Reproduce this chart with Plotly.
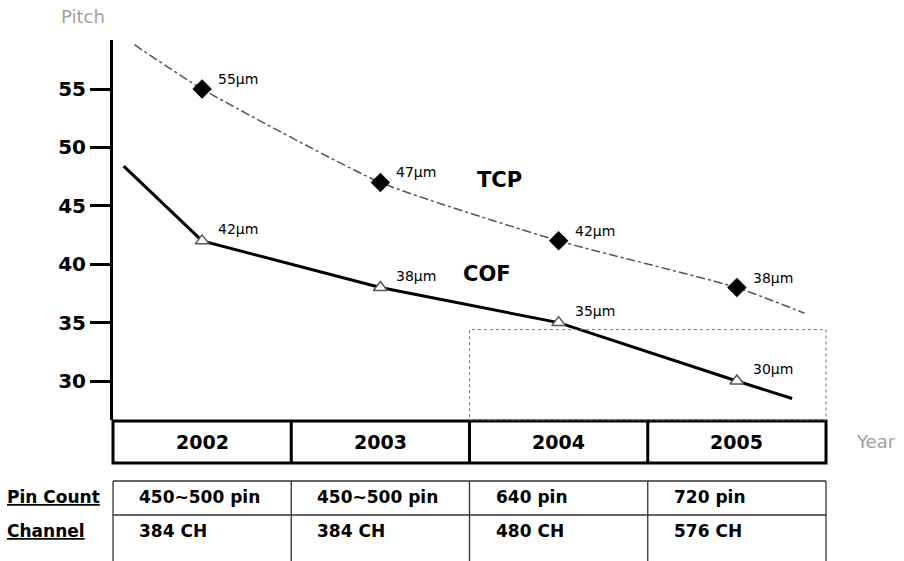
import plotly.graph_objects as go

# ---- data -------------------------------------------------------------
years = [2002, 2003, 2004, 2005]
tcp_pitch = [55, 47, 42, 38]
cof_pitch = [42, 38, 35, 30]
tcp_labels = ["55µm", "47µm", "42µm", "38µm"]
cof_labels = ["42µm", "38µm", "35µm", "30µm"]

# trend lines continue a little before the first and after the last year
tcp_trend_start = (2001.62, 58.8)
tcp_trend_end = (2005.38, 35.8)
cof_trend_start = (2001.56, 48.4)
cof_trend_end = (2005.31, 28.5)

pin_count = ["450~500 pin", "450~500 pin", "640 pin", "720 pin"]
channel = ["384 CH", "384 CH", "480 CH", "576 CH"]
row_titles = ["Pin Count", "Channel"]
y_ticks = [30, 35, 40, 45, 50, 55]

# highlighted period (dotted box)
focus_years = (2003.5, 2005.5)
focus_top = 34.4

# ---- geometry ---------------------------------------------------------
W, H = 904, 561
M_L, M_R, M_T, M_B = 113, 78, 40, 141
X_RANGE = [2001.5, 2005.5]
Y_RANGE = [26.66, 59.2]
PLOT_H = H - M_T - M_B
PLOT_W = W - M_L - M_R


def xp(x):
    """data x -> paper x"""
    return (x - X_RANGE[0]) / (X_RANGE[1] - X_RANGE[0])


def yp(y):
    """data y -> paper y"""
    return (y - Y_RANGE[0]) / (Y_RANGE[1] - Y_RANGE[0])


def py(pix):
    """pixel row -> paper y"""
    return (H - M_B - pix) / PLOT_H


def px(pix):
    """pixel column -> paper x"""
    return (pix - M_L) / PLOT_W


BOLD = dict(family="DejaVu Sans", weight="bold", color="black")

fig = go.Figure()

# TCP trend (dash-dot) and markers
fig.add_trace(go.Scatter(
    x=[tcp_trend_start[0]] + years + [tcp_trend_end[0]],
    y=[tcp_trend_start[1]] + tcp_pitch + [tcp_trend_end[1]],
    mode="lines", line=dict(color="#555555", width=1.5, dash="dashdot",
                            shape="spline", smoothing=0.5),
    hoverinfo="skip", showlegend=False))
# COF trend (solid)
fig.add_trace(go.Scatter(
    x=[cof_trend_start[0]] + years + [cof_trend_end[0]],
    y=[cof_trend_start[1]] + cof_pitch + [cof_trend_end[1]],
    mode="lines", line=dict(color="black", width=3),
    hoverinfo="skip", showlegend=False))
fig.add_trace(go.Scatter(
    x=years, y=tcp_pitch, mode="markers", name="TCP",
    marker=dict(symbol="diamond", size=15, color="black"),
    showlegend=False))
fig.add_trace(go.Scatter(
    x=years, y=cof_pitch, mode="markers", name="COF",
    marker=dict(symbol="triangle-up", size=12, color="white",
                line=dict(color="#555555", width=1.5)),
    showlegend=False))

LABEL_FONT = dict(family="DejaVu Sans", size=14, color="black")
annotations = []
for yr, v, t in zip(years, tcp_pitch, tcp_labels):
    annotations.append(dict(x=yr, y=v, text=t, showarrow=False, xanchor="left",
                            yanchor="middle", xshift=14, yshift=10, font=LABEL_FONT))
for yr, v, t in zip(years, cof_pitch, cof_labels):
    annotations.append(dict(x=yr, y=v, text=t, showarrow=False, xanchor="left",
                            yanchor="middle", xshift=14, yshift=12, font=LABEL_FONT))

AXIS_NAME_FONT = dict(family="DejaVu Sans", size=18, color="#a0a0a0")
annotations += [
    dict(x=2003.67, y=47.2, text="TCP", showarrow=False, yanchor="middle",
         font=dict(BOLD, size=21)),
    dict(x=2003.6, y=39.2, text="COF", showarrow=False, yanchor="middle",
         font=dict(BOLD, size=21)),
    dict(xref="paper", yref="paper", x=px(83), y=py(16), text="Pitch", showarrow=False,
         xanchor="center", yanchor="middle", font=AXIS_NAME_FONT),
    dict(xref="paper", yref="paper", x=px(876), y=py(441), text="Year", showarrow=False,
         xanchor="center", yanchor="middle", font=AXIS_NAME_FONT),
]

shapes = []
# year header table (thick borders)
y_top, y_bot = py(421), py(463)
shapes.append(dict(type="rect", xref="paper", yref="paper", x0=0, x1=1, y0=y_bot, y1=y_top,
                   line=dict(color="black", width=3)))
for yr in years[:-1]:
    b = xp(yr + 0.5)
    shapes.append(dict(type="line", xref="paper", yref="paper", x0=b, x1=b, y0=y_bot, y1=y_top,
                       line=dict(color="black", width=3)))
for yr in years:
    annotations.append(dict(x=yr, xref="x", yref="paper", y=py(442), text=str(yr),
                            yanchor="middle", showarrow=False, font=dict(BOLD, size=19)))

# pin count / channel table (thin borders, open at the bottom)
t_top, t_mid, t_bot = py(481), py(515), py(575)
thin = dict(color="#333333", width=1.3)
shapes.append(dict(type="line", xref="paper", yref="paper", x0=0, x1=1, y0=t_top, y1=t_top, line=thin))
shapes.append(dict(type="line", xref="paper", yref="paper", x0=0, x1=1, y0=t_mid, y1=t_mid, line=thin))
for yr in [years[0] - 0.5] + [y + 0.5 for y in years]:
    b = xp(yr)
    shapes.append(dict(type="line", xref="paper", yref="paper", x0=b, x1=b, y0=t_bot, y1=t_top, line=thin))

row_y = [py(497), py(531)]
for yr, pc, ch in zip(years, pin_count, channel):
    left = xp(yr - 0.5) + px(M_L + 24)
    for ry, txt in zip(row_y, [pc, ch]):
        annotations.append(dict(xref="paper", yref="paper", x=left, y=ry, text=txt,
                                xanchor="left", yanchor="middle", showarrow=False,
                                font=dict(BOLD, size=17)))
for ry, txt in zip(row_y, row_titles):
    annotations.append(dict(xref="paper", yref="paper", x=px(5), y=ry, text=f"<u>{txt}</u>",
                            xanchor="left", yanchor="middle", showarrow=False,
                            font=dict(BOLD, size=17)))

# dotted highlight box
shapes.append(dict(type="rect", xref="paper", yref="paper",
                   x0=xp(focus_years[0]), x1=xp(focus_years[1]),
                   y0=yp(Y_RANGE[0]), y1=yp(focus_top),
                   line=dict(color="#777777", width=1, dash="dot")))

fig.update_layout(
    width=W, height=H,
    margin=dict(l=M_L, r=M_R, t=M_T, b=M_B, pad=0),
    paper_bgcolor="white", plot_bgcolor="white",
    xaxis=dict(range=X_RANGE, visible=False, fixedrange=True),
    yaxis=dict(range=Y_RANGE, tickvals=y_ticks, showline=True, linewidth=3, linecolor="black",
               ticks="outside", ticklen=20, tickwidth=3, tickcolor="black",
               showgrid=False, zeroline=False, tickfont=dict(BOLD, size=20)),
    shapes=shapes, annotations=annotations,
)

fig.write_html("out.html")
